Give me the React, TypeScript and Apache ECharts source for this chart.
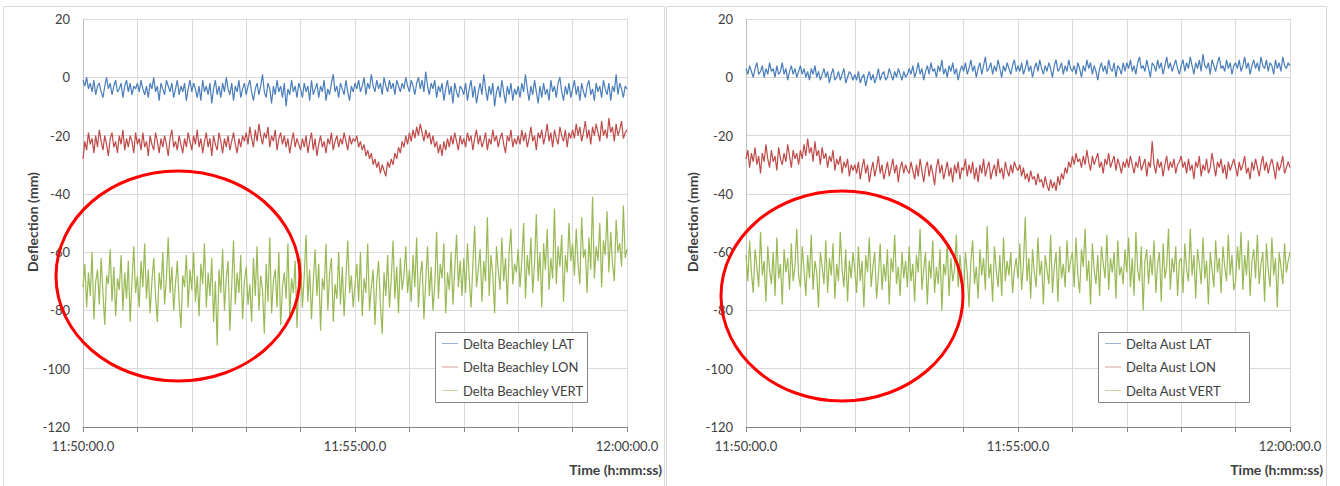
import React, { useEffect, useRef } from "react";
import * as echarts from "echarts";

// ---- data ----
const timeStepSec = 2; // one sample every 2 s, 11:50:00 .. 12:00:00
const xTickLabels = ["11:50:00.0", "11:55:00.0", "12:00:00.0"];
const yMin = -120;
const yMax = 20;
const yStep = 20;

const beachleyNames = ["Delta Beachley LAT", "Delta Beachley LON", "Delta Beachley VERT"];
const austNames = ["Delta Aust LAT", "Delta Aust LON", "Delta Aust VERT"];

const beachleyLat = [
  -1, -3, 0, -4, -2, -5, -1, -6, -3, -2, -5, -7, -3, 0, -4, -2, -6, -3, -1, -5, -4, -2, -7, -3, -1, -5, -2, -6, -3, -4,
  -2, -5, -1, -4, -6, -3, -7, -2, -4, 0, -5, -3, -8, -2, -4, -6, -1, -3, -5, -2, -7, -4, -1, -6, -3, -5, -2, -8, -4, -1,
  -5, -2, -4, -7, -3, -8, -1, -5, -3, -6, -2, -9, -4, -1, -6, -3, -7, -2, -5, 0, -4, -6, -2, -8, -3, -5, -1, -7, -4, -2,
  -6, -3, -1, -5, -8, -4, -2, -6, -3, 1, -5, -7, -2, -4, -9, -3, -6, -1, -5, -3, -7, -2, -10, -4, -6, -1, -5, -3, -7, -2,
  -4, -7, -2, -5, -3, -8, -1, -6, -4, -2, -7, -3, -5, -1, -8, -4, -6, -2, 1, -5, -3, -7, -2, -4, -6, -1, -5, -8, -3, -5,
  -2, -4, -1, -5, -3, 0, -6, -2, -4, 1, -3, -5, -1, -4, -2, -6, 0, -3, -5, -1, -4, -2, -6, -1, -3, -5, -2, -4, 0, -3,
  -5, -1, -3, -6, -2, 0, -4, -1, -5, 2, -3, -6, -2, -4, -1, -7, -3, -5, -2, -8, -4, -1, -6, -3, -9, -2, -5, -7, -3, -4,
  -6, -2, -8, -4, -1, -7, -3, -9, -5, -2, -6, 1, -4, -8, -3, -6, -2, -10, -5, -3, -7, -1, -5, -9, -3, -6, -2, -8, -4, -6,
  -3, -7, -2, -5, 1, -4, -8, -3, -6, -1, -5, -9, -3, -7, -2, -6, -4, -8, -1, -5, -3, -7, -2, 0, -5, -8, -3, -6, -2, -7,
  -4, -1, -6, -3, -8, -2, -5, -7, -3, -1, -6, -4, -8, -2, -5, -3, -7, -1, -4, -6, -2, -8, -3, -5, 1, -6, -2, -4, -7, -3,
  -4,
];
const beachleyLon = [
  -28, -22, -25, -19, -23, -21, -26, -20, -24, -18, -22, -25, -20, -23, -27, -21, -19, -24, -22, -26, -20, -23, -18, -25, -21, -24, -20, -22, -26, -19,
  -23, -21, -25, -19, -24, -22, -27, -20, -23, -25, -19, -22, -26, -21, -24, -20, -23, -27, -21, -18, -24, -22, -25, -20, -23, -26, -21, -24, -19, -22,
  -25, -20, -23, -18, -24, -21, -26, -22, -19, -24, -21, -27, -20, -23, -25, -19, -22, -26, -21, -24, -20, -25, -22, -19, -23, -26, -21, -24, -20, -22,
  -19, -23, -17, -21, -24, -18, -22, -16, -20, -23, -19, -21, -17, -24, -20, -22, -18, -25, -21, -19, -23, -20, -24, -21, -26, -22, -19, -24, -21, -23,
  -25, -21, -24, -20, -26, -22, -19, -25, -21, -27, -23, -20, -24, -22, -26, -21, -23, -19, -25, -22, -20, -24, -21, -23, -19, -22, -25, -20, -23, -21,
  -22, -20, -24, -22, -25, -23, -27, -25, -28, -26, -30, -28, -31, -29, -33, -30, -32, -34, -29, -31, -28, -30, -26, -28, -24, -26, -22, -24, -20, -23,
  -19, -22, -18, -21, -17, -20, -16, -19, -22, -18, -21, -19, -23, -20, -24, -22, -26, -23, -27, -22, -25, -21, -24, -20, -23, -19, -22, -25, -20, -23,
  -21, -24, -19, -22, -20, -25, -21, -18, -23, -20, -24, -22, -19, -25, -21, -23, -18, -22, -20, -24, -21, -19, -23, -26, -20, -22, -18, -24, -21, -23,
  -20, -23, -18, -22, -19, -24, -21, -17, -22, -20, -25, -19, -21, -18, -23, -20, -16, -22, -19, -24, -18, -21, -23, -17, -20, -22, -18, -24, -19, -21,
  -18, -21, -16, -20, -17, -22, -19, -15, -21, -18, -23, -17, -20, -16, -19, -22, -15, -20, -18, -21, -14, -19, -17, -22, -16, -20, -18, -15, -21, -19,
  -18,
];
const beachleyVert = [
  -72, -64, -79, -67, -75, -60, -83, -70, -66, -78, -62, -74, -85, -68, -71, -59, -77, -65, -82, -69, -73, -61, -80, -67, -76, -63, -84, -70, -58, -74,
  -68, -79, -63, -72, -57, -76, -66, -81, -70, -62, -75, -84, -67, -73, -60, -78, -69, -55, -74, -65, -80, -71, -63, -77, -86, -68, -72, -61, -79, -66,
  -73, -60, -77, -68, -82, -64, -71, -57, -79, -67, -75, -62, -84, -70, -92, -66, -74, -59, -80, -69, -63, -87, -72, -56, -78, -67, -74, -61, -83, -70,
  -65, -78, -71, -84, -62, -75, -58, -80, -68, -73, -88, -64, -77, -55, -81, -70, -66, -79, -60, -85, -72, -67, -76, -57, -82, -69, -74, -63, -86, -71,
  -62, -79, -68, -54, -77, -66, -83, -70, -59, -75, -64, -87, -69, -73, -57, -80, -67, -62, -84, -71, -76, -60, -78, -65, -82, -69, -56, -74, -68, -79,
  -71, -64, -77, -60, -82, -69, -74, -57, -80, -72, -66, -85, -70, -63, -78, -88, -67, -75, -61, -79, -69, -56, -76, -65, -81, -62, -73, -68, -58, -74,
  -66, -77, -61, -72, -55, -79, -68, -63, -83, -70, -58, -75, -65, -80, -71, -53, -76, -64, -69, -57, -81, -67, -73, -60, -78, -66, -54, -72, -63, -75,
  -62, -74, -57, -69, -79, -64, -51, -72, -66, -59, -77, -63, -70, -48, -75, -61, -68, -81, -58, -66, -73, -55, -70, -62, -78, -60, -52, -71, -64, -67,
  -59, -72, -63, -50, -76, -61, -68, -55, -74, -64, -47, -70, -60, -79, -57, -66, -52, -73, -62, -69, -45, -71, -58, -65, -54, -77, -61, -67, -50, -63,
  -57, -68, -52, -64, -71, -48, -62, -59, -74, -55, -66, -41, -69, -58, -63, -50, -72, -56, -61, -46, -67, -53, -64, -70, -49, -60, -57, -65, -44, -62,
  -59,
];

const austLat = [
  3, 1, 4, 2, 0, 3, 5, 1, 2, 4, 0, 3, 1, 5, 2, 3, 0, 4, 1, 2, 5, 1, 3, -1, 2, 4, 1, 3, 0, 2,
  4, 1, 3, 0, 2, -1, 3, 1, 4, 0, 2, -1, 1, 3, 0, 2, -2, 1, 3, -1, 0, 2, -1, 1, 3, -2, 0, 2, 1, -1,
  1, -1, 2, -2, 0, 1, -3, 0, 2, -1, 1, -2, 0, 3, -1, 1, 2, -1, 0, 3, 1, -1, 2, 0, 3, 1, -1, 2, 0, 1,
  3, 1, 4, 0, 2, 5, 1, 3, -1, 2, 4, 1, 5, 2, 3, 0, 4, 2, 6, 1, 3, 0, 4, 2, 5, 1, 3, -1, 2, 4,
  2, 5, 1, 3, 6, 2, 4, 0, 3, 5, 1, 4, 7, 2, 3, 5, 1, 4, 2, 6, 3, 0, 4, 2, 5, 3, 1, 4, 6, 2,
  4, 2, 5, 1, 3, 6, 2, 4, 0, 3, 5, 2, 6, 3, 1, 4, 2, 5, 3, 0, 4, 6, 2, 3, 5, 1, 4, 2, 6, 3,
  2, 4, 1, 5, 3, 0, 4, 2, 6, 3, 5, 1, 4, 2, -1, 3, 5, 2, 4, 1, 6, 3, 2, 5, 0, 4, 3, 1, 5, 2,
  5, 3, 6, 2, 4, 1, 5, 7, 3, 4, 2, 6, 3, 0, 5, 4, 2, 6, 3, 5, 1, 4, 7, 3, 5, 2, 4, 6, 3, 1,
  4, 6, 2, 5, 3, 7, 4, 1, 5, 3, 6, 2, 8, 4, 3, 5, 1, 6, 4, 2, 5, 7, 3, 4, 2, 6, 3, 5, 1, 4,
  5, 3, 6, 2, 4, 7, 3, 5, 1, 4, 6, 3, 5, 2, 7, 4, 3, 6, 2, 5, 4, 1, 6, 3, 5, 2, 7, 4, 3, 5,
  4,
];
const austLon = [
  -28, -25, -31, -26, -29, -24, -30, -27, -33, -26, -29, -23, -28, -31, -25, -29, -27, -32, -24, -28, -30, -26, -29, -23, -27, -31, -25, -28, -26, -30,
  -25, -28, -23, -27, -21, -26, -24, -29, -22, -27, -25, -30, -24, -28, -26, -31, -27, -29, -25, -32, -28, -30, -27, -33, -29, -31, -28, -34, -30, -32,
  -30, -33, -29, -35, -31, -28, -33, -30, -36, -32, -29, -34, -31, -27, -33, -30, -35, -32, -29, -34, -31, -28, -33, -30, -36, -31, -29, -33, -30, -32,
  -33, -29, -32, -35, -30, -34, -28, -32, -36, -31, -29, -34, -30, -33, -37, -31, -28, -33, -30, -35, -32, -29, -34, -31, -36, -30, -33, -29, -35, -31,
  -32, -28, -34, -30, -33, -29, -35, -31, -36, -30, -33, -28, -34, -31, -29, -35, -32, -30, -34, -28, -33, -31, -35, -29, -32, -34, -30, -33, -29, -31,
  -32, -30, -34, -31, -35, -33, -36, -32, -35, -34, -37, -33, -36, -35, -38, -34, -37, -39, -35, -38, -36, -39, -34, -37, -33, -35, -31, -33, -29, -31,
  -27, -30, -26, -29, -28, -31, -27, -30, -25, -29, -32, -27, -30, -28, -26, -31, -29, -33, -28, -30, -26, -31, -29, -27, -32, -28, -30, -33, -29, -31,
  -28, -31, -27, -30, -33, -29, -31, -27, -32, -30, -28, -34, -29, -31, -22, -30, -33, -28, -31, -29, -34, -30, -27, -32, -29, -31, -28, -33, -30, -29,
  -27, -31, -29, -33, -28, -32, -30, -35, -29, -31, -27, -34, -30, -32, -28, -33, -31, -26, -30, -34, -29, -31, -28, -33, -30, -35, -29, -32, -30, -28,
  -31, -34, -29, -32, -30, -27, -33, -31, -35, -29, -32, -28, -31, -34, -30, -27, -32, -29, -33, -30, -28, -31, -35, -29, -32, -30, -27, -33, -31, -29,
  -31,
];
const austVert = [
  -61, -70, -56, -67, -74, -59, -65, -72, -53, -68, -63, -77, -58, -66, -71, -60, -75, -55, -69, -64, -78, -59, -67, -62, -73, -57, -70, -65, -52, -68,
  -72, -58, -66, -75, -61, -69, -54, -73, -63, -67, -79, -60, -65, -71, -56, -74, -62, -68, -57, -76, -64, -70, -53, -66, -72, -59, -77, -63, -69, -60,
  -66, -74, -58, -70, -63, -79, -61, -67, -55, -72, -65, -60, -76, -68, -57, -73, -64, -70, -59, -78, -62, -67, -54, -71, -65, -75, -60, -69, -63, -72,
  -58, -70, -64, -77, -61, -67, -52, -73, -66, -60, -78, -63, -69, -56, -74, -65, -71, -59, -80, -64, -68, -57, -75, -62, -70, -66, -54, -72, -61, -69,
  -74, -60, -67, -79, -63, -56, -71, -65, -76, -59, -68, -62, -73, -51, -69, -64, -77, -58, -66, -72, -61, -75, -55, -70, -63, -68, -60, -74, -66, -62,
  -69, -57, -73, -64, -48, -70, -62, -76, -59, -67, -72, -55, -68, -63, -78, -61, -66, -71, -54, -74, -65, -60, -77, -58, -69, -64, -72, -56, -67, -63,
  -60, -72, -55, -68, -74, -59, -65, -52, -70, -63, -78, -57, -66, -71, -61, -75, -58, -64, -69, -54, -73, -62, -67, -60, -76, -56, -68, -65, -71, -59,
  -67, -55, -72, -62, -75, -53, -66, -70, -58, -80, -63, -59, -71, -61, -68, -56, -74, -64, -60, -77, -57, -69, -65, -52, -73, -62, -67, -58, -75, -63,
  -62, -74, -57, -66, -70, -52, -68, -61, -76, -59, -64, -71, -55, -69, -63, -78, -60, -66, -72, -56, -67, -62, -74, -58, -65, -70, -54, -68, -61, -73,
  -70, -58, -66, -53, -73, -61, -68, -56, -75, -63, -59, -69, -54, -71, -64, -60, -77, -57, -66, -72, -55, -68, -62, -79, -60, -65, -71, -57, -67, -63,
  -60,
];

const seriesColors = ["#4a7ebb", "#be4b48", "#98b954"];
const legendLineColors = ["#9bb0cc", "#d69d9b", "#c4d6a4"];

const FONT = "Lato, 'Open Sans', sans-serif";
const TEXT_COLOR = "#404040";

function toPairs(values: number[]) {
  return values.map((v, i) => [i * timeStepSec, v]);
}

function xAxisFor(gridIndex: number) {
  return {
    type: "value",
    gridIndex,
    min: 0,
    max: 600,
    interval: 60,
    axisLine: { show: true, onZero: false, lineStyle: { color: "#868686", width: 1 } },
    axisTick: { show: true, length: 5, lineStyle: { color: "#868686" } },
    axisLabel: {
      margin: 12,
      fontFamily: FONT,
      fontSize: 13,
      color: TEXT_COLOR,
      showMinLabel: true,
      showMaxLabel: true,
      formatter: (v: number) => (v % 300 === 0 ? xTickLabels[v / 300] : ""),
    },
    splitLine: { show: true, lineStyle: { color: "#d9d9d9", width: 1 } },
  };
}

function yAxisFor(gridIndex: number) {
  return {
    type: "value",
    gridIndex,
    min: yMin,
    max: yMax,
    interval: yStep,
    axisLine: { show: true, onZero: false, lineStyle: { color: "#bfbfbf", width: 1 } },
    axisTick: { show: false },
    axisLabel: { margin: 13, fontFamily: FONT, fontSize: 13, color: TEXT_COLOR },
    splitLine: { show: true, lineStyle: { color: "#d9d9d9", width: 1 } },
  };
}

function lineSeries(name: string, values: number[], idx: number, axisIndex: number) {
  const color = seriesColors[idx];
  return {
    name,
    type: "line",
    xAxisIndex: axisIndex,
    yAxisIndex: axisIndex,
    data: toPairs(values),
    showSymbol: false,
    symbol: "none",
    color,
    lineStyle: { color, width: 1.2 },
    emphasis: { disabled: true },
  };
}

function legendFor(names: string[], left: number) {
  return {
    z: 20,
    data: names.map((name, i) => ({
      name,
      itemStyle: { color: legendLineColors[i] },
      lineStyle: { color: legendLineColors[i] },
    })),
    orient: "vertical",
    left,
    top: 337,
    padding: 0,
    itemGap: 10.5,
    itemWidth: 16,
    itemHeight: 1,
    icon: "rect",
    textStyle: { fontFamily: FONT, fontSize: 13, color: TEXT_COLOR },
    selectedMode: false,
  };
}

export default function App() {
  const ref = useRef<HTMLDivElement>(null);
  useEffect(() => {
    const chart = echarts.init(ref.current!, null, { renderer: "svg" });
    const option = {
      animation: false,
      backgroundColor: "#ffffff",
      grid: [
        { left: 83, top: 19, width: 544, height: 408, containLabel: false },
        { left: 746, top: 19, width: 544, height: 408, containLabel: false },
      ],
      xAxis: [xAxisFor(0), xAxisFor(1)],
      yAxis: [yAxisFor(0), yAxisFor(1)],
      legend: [legendFor(beachleyNames, 442), legendFor(austNames, 1105)],
      series: [
        lineSeries(beachleyNames[0], beachleyLat, 0, 0),
        lineSeries(beachleyNames[1], beachleyLon, 1, 0),
        lineSeries(beachleyNames[2], beachleyVert, 2, 0),
        lineSeries(austNames[0], austLat, 0, 1),
        lineSeries(austNames[1], austLon, 1, 1),
        lineSeries(austNames[2], austVert, 2, 1),
      ],
      graphic: [
        { type: "rect", z: -10, shape: { x: 3.5, y: 6.5, width: 661, height: 500 }, style: { fill: "none", stroke: "#d9d9d9", lineWidth: 1 } },
        { type: "rect", z: -10, shape: { x: 666.5, y: 6.5, width: 660, height: 500 }, style: { fill: "none", stroke: "#d9d9d9", lineWidth: 1 } },
        { type: "rect", z: 3, shape: { x: 435.5, y: 332.5, width: 152, height: 70 }, style: { fill: "#ffffff", stroke: "#868686", lineWidth: 1 } },
        { type: "rect", z: 3, shape: { x: 1098.5, y: 332.5, width: 151, height: 70 }, style: { fill: "#ffffff", stroke: "#868686", lineWidth: 1 } },
        { type: "text", z: 10, x: 662, y: 469, style: { text: "Time (h:mm:ss)", align: "right", verticalAlign: "middle", font: `bold 14px ${FONT}`, fill: TEXT_COLOR } },
        { type: "text", z: 10, x: 1323, y: 469, style: { text: "Time (h:mm:ss)", align: "right", verticalAlign: "middle", font: `bold 14px ${FONT}`, fill: TEXT_COLOR } },
        { type: "text", z: 10, x: 32, y: 222, rotation: Math.PI / 2, style: { text: "Deflection (mm)", align: "center", verticalAlign: "middle", font: `bold 14px ${FONT}`, fill: TEXT_COLOR } },
        { type: "text", z: 10, x: 692, y: 222, rotation: Math.PI / 2, style: { text: "Deflection (mm)", align: "center", verticalAlign: "middle", font: `bold 14px ${FONT}`, fill: TEXT_COLOR } },
        { type: "ellipse", z: 100, shape: { cx: 178, cy: 276, rx: 122, ry: 105 }, style: { fill: "none", stroke: "#ff0000", lineWidth: 3 } },
        { type: "ellipse", z: 100, shape: { cx: 842, cy: 296, rx: 121, ry: 105 }, style: { fill: "none", stroke: "#ff0000", lineWidth: 3 } },
      ],
    };
    chart.setOption(option as any);
    return () => chart.dispose();
  }, []);
  return (
    <div
      ref={ref}
      style={{ position: "fixed", left: 0, top: 0, width: 1340, height: 486, background: "#ffffff" }}
    />
  );
}
